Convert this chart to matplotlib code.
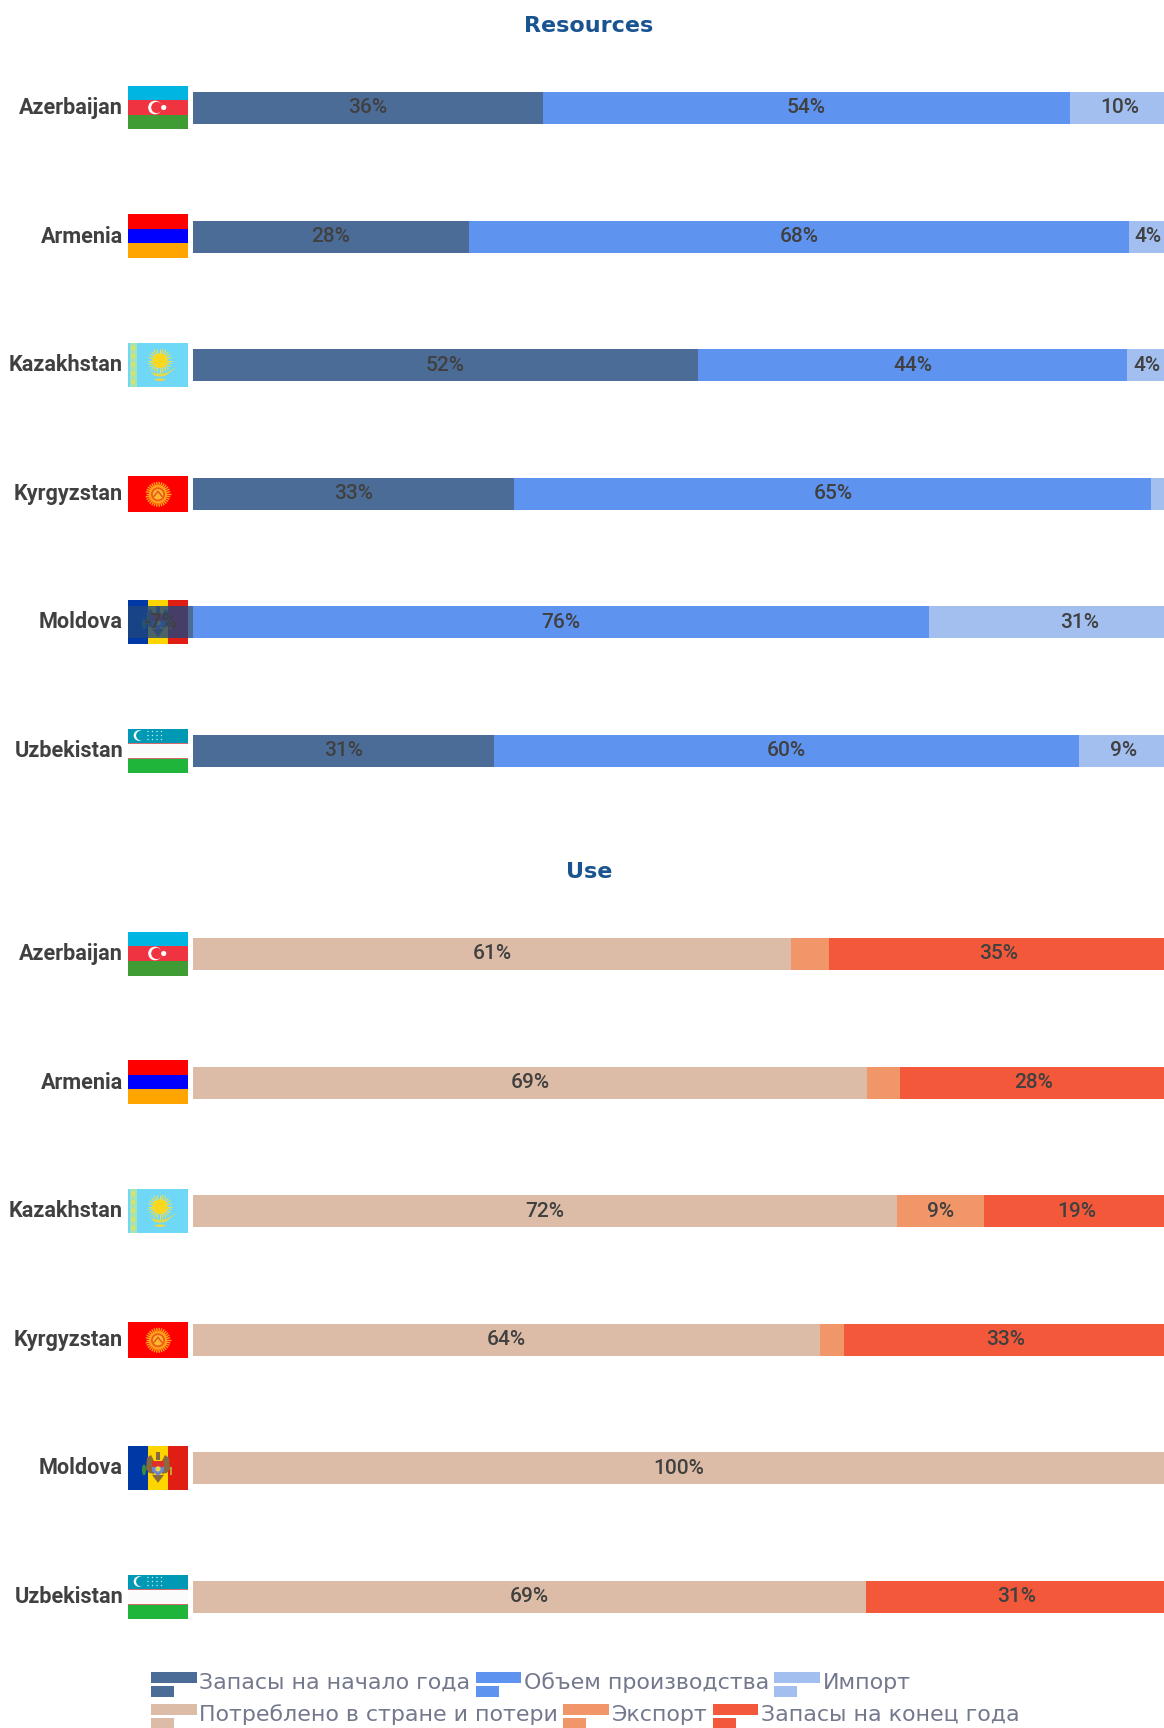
import math
import matplotlib
matplotlib.use("Agg")
import matplotlib.pyplot as plt
from matplotlib.legend_handler import HandlerBase
from matplotlib.patches import Rectangle, Circle, Polygon, Ellipse

countries = ["Azerbaijan", "Armenia", "Kazakhstan", "Kyrgyzstan", "Moldova", "Uzbekistan"]

# Resources panel, % of total
stock_start = [36.0, 28.4, 52.0, 33.1, -6.7, 31.0]
production = [54.3, 68.0, 44.2, 65.6, 75.8, 60.2]
imports = [10.2, 3.9, 4.0, 1.3, 31.0, 9.2]
stock_start_labels = ["36%", "28%", "52%", "33%", "-7%", "31%"]
production_labels = ["54%", "68%", "44%", "65%", "76%", "60%"]
imports_labels = ["10%", "4%", "4%", "", "31%", "9%"]

# Use panel, % of total
consumed = [61.6, 69.4, 72.5, 64.6, 100.0, 69.3]
exports = [3.9, 3.4, 9.0, 2.4, 0.0, 0.0]
stock_end = [35.0, 27.6, 19.0, 33.4, 0.0, 31.0]
consumed_labels = ["61%", "69%", "72%", "64%", "100%", "69%"]
exports_labels = ["", "", "9%", "", "", ""]
stock_end_labels = ["35%", "28%", "19%", "33%", "", "31%"]

legend_row1 = ["Запасы на начало года", "Объем производства", "Импорт"]
legend_row2 = ["Потреблено в стране и потери", "Экспорт", "Запасы на конец года"]

colors_res = ["#1f477f", "#3678ec", "#8bafec"]
colors_use = ["#d4ab90", "#ed7c42", "#f02e09"]
bar_alpha = 0.8
text_color = "#404040"
W, H = 1164, 1728
ROW = 128.6


def stripes(ax, top, h, cols):
    # horizontal bands, equal height
    for i, c in enumerate(cols):
        ax.add_patch(Rectangle((128, top + i * h / len(cols)), 60, h / len(cols), color=c, lw=0))


def sun_rays(ax, x, y, r0, r1, n, color, lw=0.8):
    for k in range(n):
        a = 2 * math.pi * k / n
        ax.plot([x + r0 * math.cos(a), x + r1 * math.cos(a)], [y + r0 * math.sin(a), y + r1 * math.sin(a)],
                color=color, lw=lw, solid_capstyle="butt")


def draw_flag(ax, name, cy):
    cx = 158
    if name == "Azerbaijan":
        top = cy - 22
        stripes(ax, top, 44, ["#00b5e2", "#ef3340", "#3f9c35"])
        ax.add_patch(Circle((cx - 3, cy), 6.8, color="white", lw=0))
        ax.add_patch(Circle((cx - 1.2, cy), 5.6, color="#ef3340", lw=0))
        ax.add_patch(Circle((cx + 5.7, cy), 2.6, color="white", lw=0))
    elif name == "Armenia":
        stripes(ax, cy - 22, 44, ["#ff0000", "#0000ff", "#ffa500"])
    elif name == "Kazakhstan":
        ax.add_patch(Rectangle((128, cy - 22), 60, 44, color="#6fd8f6", lw=0))
        ax.add_patch(Rectangle((130, cy - 22), 6.5, 44, color="#a9e3b0", lw=0))
        for k in range(5):
            ax.add_patch(Ellipse((133.2, cy - 17 + k * 8.5), 4, 5, color="#d8e36a", lw=0))
        sun_rays(ax, cx + 2, cy - 4, 7, 12, 24, "#f0e050")
        ax.add_patch(Circle((cx + 2, cy - 4), 7.5, color="#fbd81e", lw=0))
        ax.add_patch(Polygon([(cx - 9, cy + 4), (cx - 4, cy + 11), (cx + 2, cy + 12), (cx + 8, cy + 11),
                              (cx + 19, cy + 2), (cx + 9, cy + 8), (cx + 2, cy + 9), (cx - 5, cy + 8)],
                             color="#e3d94e", lw=0))
        ax.add_patch(Ellipse((cx + 2, cy + 15), 11, 2.5, color="#ecd94a", lw=0))
    elif name == "Kyrgyzstan":
        ax.add_patch(Rectangle((128, cy - 18), 60, 36, color="#ff0000", lw=0))
        sun_rays(ax, cx, cy, 8, 12.5, 30, "#ffa319", lw=1.0)
        ax.add_patch(Circle((cx, cy), 9, color="#ffa319", lw=0))
        ax.add_patch(Circle((cx, cy), 7, color="#ee5a1a", lw=0))
        ax.add_patch(Circle((cx, cy), 5.2, color="#ffb52e", lw=0))
        ax.plot([cx - 4, cx, cx + 4], [cy + 2, cy - 3, cy + 2], color="#e0541a", lw=1)
    elif name == "Moldova":
        for i, c in enumerate(["#0039a6", "#ffd500", "#e01e14"]):
            ax.add_patch(Rectangle((128 + i * 20, cy - 22), 20, 44, color=c, lw=0))
        # eagle wings, body, shield
        ax.add_patch(Polygon([(cx - 11, cy - 10), (cx - 7, cy - 13), (cx - 4, cy - 7), (cx - 4, cy + 6),
                              (cx - 9, cy + 5), (cx - 12, cy + 1)], color="#8a6a3c", lw=0))
        ax.add_patch(Polygon([(cx + 11, cy - 10), (cx + 7, cy - 13), (cx + 4, cy - 7), (cx + 4, cy + 6),
                              (cx + 9, cy + 5), (cx + 12, cy + 1)], color="#8a6a3c", lw=0))
        ax.add_patch(Polygon([(cx - 2, cy - 16), (cx + 2, cy - 16), (cx + 2, cy - 8), (cx - 2, cy - 8)],
                             color="#8a6a3c", lw=0))
        ax.add_patch(Polygon([(cx - 6, cy + 7), (cx + 6, cy + 7), (cx, cy + 15)], color="#8a6a3c", lw=0))
        ax.add_patch(Rectangle((cx - 6, cy - 7), 12, 6, color="#e0302a", lw=0))
        ax.add_patch(Polygon([(cx - 6, cy - 1), (cx + 6, cy - 1), (cx + 6, cy + 3), (cx, cy + 8), (cx - 6, cy + 3)],
                             color="#6f86d0", lw=0))
        ax.add_patch(Circle((cx, cy + 1), 2.6, color="#e3d84a", lw=0))
        ax.add_patch(Ellipse((cx - 14, cy + 2), 4, 11, color="#3c8c3a", lw=0))
        ax.add_patch(Rectangle((cx + 12, cy - 1), 1.6, 8, color="#c8a030", lw=0))
    elif name == "Uzbekistan":
        top = cy - 22
        stripes(ax, top, 44, ["#0099b5", "#fbfbfb", "#1eb53a"])
        ax.add_patch(Rectangle((128, top + 14.2), 60, 1.3, color="#ce6a70", lw=0))
        ax.add_patch(Rectangle((128, top + 29), 60, 1.3, color="#ce6a70", lw=0))
        ax.add_patch(Circle((cx - 19, top + 7), 5.3, color="white", lw=0))
        ax.add_patch(Circle((cx - 17, top + 7), 4.9, color="#0099b5", lw=0))
        for col in range(4):
            for r in range(3):
                ax.add_patch(Circle((cx - 10 + col * 4.5, top + 3 + r * 4), 0.7, color="#cfeef2", lw=0))


class HandlerFlagBars(HandlerBase):
    # wide bar on top, half-width bar under it
    def create_artists(self, legend, orig_handle, xdescent, ydescent, width, height, fontsize, trans):
        bar_h = 11 * 0.72
        gap = 3 * 0.72
        shift = -4.4
        top = Rectangle((-xdescent, -ydescent + bar_h + gap + shift), width, bar_h,
                        color=orig_handle.get_facecolor(), alpha=bar_alpha, lw=0, transform=trans)
        low = Rectangle((-xdescent, -ydescent + shift), width / 2, bar_h,
                        color=orig_handle.get_facecolor(), alpha=bar_alpha, lw=0, transform=trans)
        return [top, low]


def draw_panel(fig, first_center, series, labels, colors, title, title_y, flag_ax):
    top_px = first_center - ROW / 2
    ax = fig.add_axes([0, 1 - (top_px + 6 * ROW) / H, 1, 6 * ROW / H], zorder=2)
    ax.patch.set_alpha(0)
    ax.set_xlim(-193 / 9.71, 100)
    ax.set_ylim(5.5, -0.5)
    ax.axis("off")
    ypos = list(range(len(countries)))
    left_pos = [0.0] * len(countries)
    for vals, labs, col in zip(series, labels, colors):
        starts = []
        for i, v in enumerate(vals):
            starts.append(left_pos[i] if v >= 0 else 0.0)
        ax.barh(ypos, vals, left=starts, height=0.249, color=col, alpha=bar_alpha, lw=0)
        for i, v in enumerate(vals):
            if labs[i]:
                ax.text(starts[i] + v / 2, i - 0.016, labs[i], ha="center", va="center_baseline", fontsize=15,
                        family="Roboto", weight="medium", color=text_color, clip_on=False)
            if v >= 0:
                left_pos[i] = starts[i] + v
    for i, name in enumerate(countries):
        cy = first_center + i * ROW
        draw_flag(flag_ax, name, cy + (0.5 if name == "Kyrgyzstan" else -0.5))
        flag_ax.text(123, cy - 2.5, name, ha="right", va="center_baseline", fontsize=15.6,
                     family="Roboto", weight="bold", color=text_color)
    fig.text(589 / W, 1 - title_y / H, title, ha="center", va="center", fontsize=16,
             family="DejaVu Sans", weight="bold", color="#1a5490")
    return ax


fig = plt.figure(figsize=(W / 100, H / 100), dpi=100, facecolor="white")
flag_ax = fig.add_axes([0, 0, 1, 1], zorder=1)
flag_ax.set_xlim(0, W)
flag_ax.set_ylim(H, 0)
flag_ax.axis("off")

draw_panel(fig, 108, [stock_start, production, imports],
           [stock_start_labels, production_labels, imports_labels], colors_res, "Resources", 26, flag_ax)
draw_panel(fig, 954, [consumed, exports, stock_end],
           [consumed_labels, exports_labels, stock_end_labels], colors_use, "Use", 872, flag_ax)

# two flowing legend rows, drawn as separate legends
for names, cols, y_px in [(legend_row1, colors_res, 1682), (legend_row2, colors_use, 1714)]:
    handles = [Rectangle((0, 0), 1, 1, facecolor=c) for c in cols]
    leg = fig.legend(handles, names, ncol=3, loc="center left", bbox_to_anchor=(151 / W, 1 - y_px / H),
                     frameon=False, fontsize=15.9, labelcolor="#74788d", borderpad=0, borderaxespad=0,
                     handlelength=2.07, handleheight=1.0, handletextpad=0.115, columnspacing=0.24,
                     handler_map={Rectangle: HandlerFlagBars()})
    leg.set_zorder(3)

fig.savefig("out.png", dpi=100)
